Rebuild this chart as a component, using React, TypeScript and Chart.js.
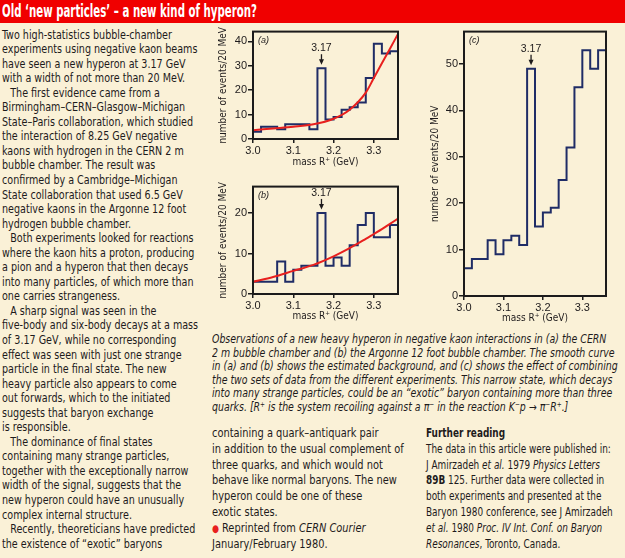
import React, { useEffect, useLayoutEffect, useRef } from "react";
import { Chart, registerables } from "chart.js";
Chart.register(...registerables);

// ---------- data ----------
const binEdges = [3.0, 3.02, 3.04, 3.06, 3.08, 3.1, 3.12, 3.14, 3.16, 3.18, 3.2, 3.22, 3.24, 3.26, 3.28, 3.3, 3.32, 3.34];
const massMin = 3.0;
const massMax = 3.36;
const countsA = [3, 5, 5, 4, 6, 6, 6, 4, 29, 8, 9, 12, 13, 15, 25, 39, 35, 36];
const countsB = [3, 3, 3, 8, 3, 6, 7, 7, 20, 7, 9, 7, 12, 17, 20, 14, 14, 17];
const countsC = [6, 8, 8, 12, 9, 12, 13, 11, 49, 15, 18, 19, 25, 32, 45, 53, 49, 53];
const fitMass = [3.0, 3.05, 3.1, 3.15, 3.2, 3.24, 3.28, 3.3, 3.32, 3.34, 3.36];
const fitA = [3.6, 4.3, 5.0, 6.0, 8.3, 12, 19, 25, 31, 37, 43];
const fitB = [3.0, 4.2, 5.7, 7.2, 9.3, 11.3, 13.6, 14.8, 16.0, 17.3, 18.6];
const xTickValues = [3.0, 3.1, 3.2, 3.3];
const yTicksA = [0, 10, 20, 30, 40];
const yTicksB = [0, 10, 20];
const yTicksC = [0, 10, 20, 30, 40, 50];
const peakMass = 3.17;
const peakBinIndex = 8;
const peakLabel = "3.17";

const BG = "#faf1d7";
const INK = "#1e1b1c";
const NAVY = "#1f2c66";
const RED = "#e8201e";
const NARROW = '"Liberation Sans Narrow", "DejaVu Sans Condensed", "Arial Narrow", sans-serif';
const SANS = '"Liberation Sans", Arial, sans-serif';

const panelPlugin = {
  id: "panelDecor",
  afterDatasetsDraw(chart: any, _args: any, opts: any) {
    const { ctx, chartArea: ca, scales } = chart;
    ctx.save();
    ctx.strokeStyle = "#1b1b1b";
    ctx.lineWidth = 2;
    ctx.strokeRect(ca.left, ca.top, ca.right - ca.left, ca.bottom - ca.top);
    ctx.fillStyle = INK;
    ctx.font = `italic 9px ${SANS}`;
    ctx.textAlign = "left";
    ctx.textBaseline = "top";
    ctx.fillText(opts.label, ca.left + 5, ca.top + 4);
    const px = scales.x.getPixelForValue(opts.peakX);
    const py = scales.y.getPixelForValue(opts.peakY);
    ctx.font = `10.5px ${SANS}`;
    ctx.textAlign = "center";
    ctx.textBaseline = "middle";
    ctx.fillText(peakLabel, px, py - 20);
    ctx.strokeStyle = INK;
    ctx.lineWidth = 1.3;
    ctx.beginPath();
    ctx.moveTo(px, py - 14);
    ctx.lineTo(px, py - 7);
    ctx.stroke();
    ctx.beginPath();
    ctx.moveTo(px - 2.5, py - 9);
    ctx.lineTo(px + 2.5, py - 9);
    ctx.lineTo(px, py - 3.5);
    ctx.closePath();
    ctx.fill();
    ctx.restore();
  },
};

type PanelProps = {
  left: number; top: number; width: number; height: number;
  yAxisWidth: number; xAxisHeight: number; padTop: number; padRight: number;
  counts: number[]; fit?: number[]; yMax: number; yTicks: number[]; label: string;
};

function Panel(p: PanelProps) {
  const ref = useRef<HTMLCanvasElement>(null);
  useEffect(() => {
    if (!ref.current) return;
    const stepData = binEdges.map((x, i) => ({ x, y: p.counts[i] }));
    stepData.push({ x: massMax, y: p.counts[p.counts.length - 1] });
    const datasets: any[] = [];
    if (p.fit) {
      datasets.push({
        data: fitMass.map((x, i) => ({ x, y: p.fit![i] })),
        borderColor: RED, borderWidth: 2, pointRadius: 0,
        cubicInterpolationMode: "monotone", fill: false,
      });
    }
    datasets.push({
      data: stepData, stepped: true, borderColor: NAVY, borderWidth: 2,
      pointRadius: 0, fill: false, borderJoinStyle: "miter",
    });
    const tickGrid = { display: true, drawOnChartArea: false, drawTicks: true, color: "#1b1b1b", lineWidth: 1.5 };
    const chart = new Chart(ref.current, {
      type: "line",
      data: { datasets },
      plugins: [panelPlugin],
      options: {
        animation: false, responsive: false, devicePixelRatio: 1,
        layout: { padding: { top: p.padTop, right: p.padRight, left: 0, bottom: 0 } },
        plugins: { legend: { display: false }, tooltip: { enabled: false }, panelDecor: { label: p.label, peakX: peakMass, peakY: p.counts[peakBinIndex] } } as any,
        scales: {
          x: {
            type: "linear", min: massMin, max: massMax,
            afterBuildTicks: (s: any) => { s.ticks = xTickValues.map((v) => ({ value: v })); },
            afterFit: (s: any) => { s.height = p.xAxisHeight; },
            ticks: { callback: (v: any) => Number(v).toFixed(1), color: INK, font: { family: SANS, size: 11 }, padding: 1, maxRotation: 0, autoSkip: false },
            grid: { ...tickGrid, tickLength: 4 },
            border: { display: false },
            title: { display: true, text: "mass R\u207A (GeV)", color: INK, font: { family: NARROW, size: 10 }, padding: 0 },
          },
          y: {
            type: "linear", min: 0, max: p.yMax,
            afterBuildTicks: (s: any) => { s.ticks = p.yTicks.map((v) => ({ value: v })); },
            afterFit: (s: any) => { s.width = p.yAxisWidth; },
            ticks: { color: INK, font: { family: SANS, size: 11 }, padding: 1 },
            grid: { ...tickGrid, tickLength: 5 },
            border: { display: false },
            title: { display: true, text: "number of events/20 MeV", color: INK, font: { family: NARROW, size: 10 }, padding: 0 },
          },
        },
      } as any,
    });
    return () => chart.destroy();
  }, []);
  return (
    <canvas ref={ref} width={p.width} height={p.height}
      style={{ position: "absolute", left: p.left, top: p.top, width: p.width, height: p.height }} />
  );
}

type Line = { c: React.ReactNode; indent?: boolean };

function FitBlock(props: { left: number; top: number; lineHeight: number; fontSize: number; family: string; italic?: boolean; lines: Line[]; refIndex: number; targetWidth: number; indent?: number }) {
  const blk = useRef<HTMLDivElement>(null);
  const refSpan = useRef<HTMLSpanElement>(null);
  useLayoutEffect(() => {
    if (!blk.current || !refSpan.current) return;
    const w = refSpan.current.offsetWidth;
    if (w > 0) blk.current.style.transform = `scaleX(${props.targetWidth / w})`;
  }, []);
  return (
    <div ref={blk} style={{ position: "absolute", left: props.left, top: props.top, transformOrigin: "0 0", whiteSpace: "nowrap", fontFamily: props.family, fontSize: props.fontSize, lineHeight: `${props.lineHeight}px`, fontStyle: props.italic ? "italic" : "normal", color: INK }}>
      {props.lines.map((ln, i) => (
        <div key={i} style={{ paddingLeft: ln.indent ? props.indent ?? 10 : 0, height: props.lineHeight, overflow: "visible" }}>
          <span ref={i === props.refIndex ? refSpan : undefined}>{ln.c}</span>
        </div>
      ))}
    </div>
  );
}

const Sup = ({ t }: { t: string }) => (
  <span style={{ fontSize: "0.62em", position: "relative", top: "-0.55em", lineHeight: 0 }}>{t}</span>
);

const leftLines: Line[] = [
  { c: "Two high-statistics bubble-chamber" },
  { c: "experiments using negative kaon beams" },
  { c: "have seen a new hyperon at 3.17 GeV" },
  { c: "with a width of not more than 20 MeV." },
  { c: "The first evidence came from a", indent: true },
  { c: "Birmingham\u2013CERN\u2013Glasgow\u2013Michigan" },
  { c: "State\u2013Paris collaboration, which studied" },
  { c: "the interaction of 8.25 GeV negative" },
  { c: "kaons with hydrogen in the CERN 2 m" },
  { c: "bubble chamber. The result was" },
  { c: "confirmed by a Cambridge\u2013Michigan" },
  { c: "State collaboration that used 6.5 GeV" },
  { c: "negative kaons in the Argonne 12 foot" },
  { c: "hydrogen bubble chamber." },
  { c: "Both experiments looked for reactions", indent: true },
  { c: "where the kaon hits a proton, producing" },
  { c: "a pion and a hyperon that then decays" },
  { c: "into many particles, of which more than" },
  { c: "one carries strangeness." },
  { c: "A sharp signal was seen in the", indent: true },
  { c: "five-body and six-body decays at a mass" },
  { c: "of 3.17 GeV, while no corresponding" },
  { c: "effect was seen with just one strange" },
  { c: "particle in the final state. The new" },
  { c: "heavy particle also appears to come" },
  { c: "out forwards, which to the initiated" },
  { c: "suggests that baryon exchange" },
  { c: "is responsible." },
  { c: "The dominance of final states", indent: true },
  { c: "containing many strange particles," },
  { c: "together with the exceptionally narrow" },
  { c: "width of the signal, suggests that the" },
  { c: "new hyperon could have an unusually" },
  { c: "complex internal structure." },
  { c: "Recently, theoreticians have predicted", indent: true },
  { c: "the existence of \u201Cexotic\u201D baryons" },
];

const captionLines: Line[] = [
  { c: "Observations of a new heavy hyperon in negative kaon interactions in (a) the CERN" },
  { c: "2 m bubble chamber and (b) the Argonne 12 foot bubble chamber. The smooth curve" },
  { c: "in (a) and (b) shows the estimated background, and (c) shows the effect of combining" },
  { c: "the two sets of data from the different experiments. This narrow state, which decays" },
  { c: "into many strange particles, could be an \u201Cexotic\u201D baryon containing more than three" },
  { c: <>quarks. [R<Sup t="+" /> is the system recoiling against a {"\u03C0"}<Sup t={"\u2212"} /> in the reaction K<Sup t={"\u2212"} />p {"\u2192"} {"\u03C0"}<Sup t={"\u2212"} />R<Sup t="+" />.]</> },
];

const middleLines: Line[] = [
  { c: "containing a quark\u2013antiquark pair" },
  { c: "in addition to the usual complement of" },
  { c: "three quarks, and which would not" },
  { c: "behave like normal baryons. The new" },
  { c: "hyperon could be one of these" },
  { c: "exotic states." },
  { c: <><span style={{ color: RED, fontSize: "0.8em" }}>{"\u25CF"}</span> Reprinted from <i>CERN Courier</i></> },
  { c: "January/February 1980." },
];

const rightLines: Line[] = [
  { c: <b>Further reading</b> },
  { c: "The data in this article were published in:" },
  { c: <>J Amirzadeh <i>et al.</i> 1979 <i>Physics Letters</i></> },
  { c: <><b>89B</b> 125. Further data were collected in</> },
  { c: "both experiments and presented at the" },
  { c: "Baryon 1980 conference, see J Amirzadeh" },
  { c: <><i>et al.</i> 1980 <i>Proc. IV Int. Conf. on Baryon</i></> },
  { c: <><i>Resonances</i>, Toronto, Canada.</> },
];

export default function App() {
  return (
    <div style={{ position: "absolute", left: 0, top: 0, width: 625, height: 558, background: BG, overflow: "hidden" }}>
      <div style={{ position: "absolute", left: 0, top: 0, width: 625, height: 23, background: "#f00000" }} />
      <FitBlock left={2} top={0} lineHeight={23} fontSize={17.5} family={NARROW} lines={[{ c: <b style={{ color: "#fff" }}>Old {"\u2018"}new particles{"\u2019"} {"\u2013"} a new kind of hyperon?</b> }]} refIndex={0} targetWidth={255} />
      <FitBlock left={2} top={27.5} lineHeight={14.55} fontSize={13} family={NARROW} lines={leftLines} refIndex={6} targetWidth={191} indent={10} />
      <FitBlock left={212} top={333} lineHeight={13.6} fontSize={12} family={NARROW} italic lines={captionLines} refIndex={2} targetWidth={406} />
      <FitBlock left={212} top={425} lineHeight={15.8} fontSize={13} family={NARROW} lines={middleLines} refIndex={1} targetWidth={192} />
      <FitBlock left={426} top={425} lineHeight={15.8} fontSize={13} family={NARROW} lines={rightLines} refIndex={1} targetWidth={185} />
      <Panel left={217} top={24} width={187} height={144} yAxisWidth={36} xAxisHeight={29} padTop={5} padRight={6}
        counts={countsA} fit={fitA} yMax={44} yTicks={yTicksA} label="(a)" />
      <Panel left={217} top={179} width={187} height={143} yAxisWidth={36} xAxisHeight={28} padTop={5} padRight={6}
        counts={countsB} fit={fitB} yMax={26.5} yTicks={yTicksB} label="(b)" />
      <Panel left={429} top={24} width={185} height={300} yAxisWidth={35} xAxisHeight={28} padTop={5} padRight={8}
        counts={countsC} yMax={57} yTicks={yTicksC} label="(c)" />
    </div>
  );
}
